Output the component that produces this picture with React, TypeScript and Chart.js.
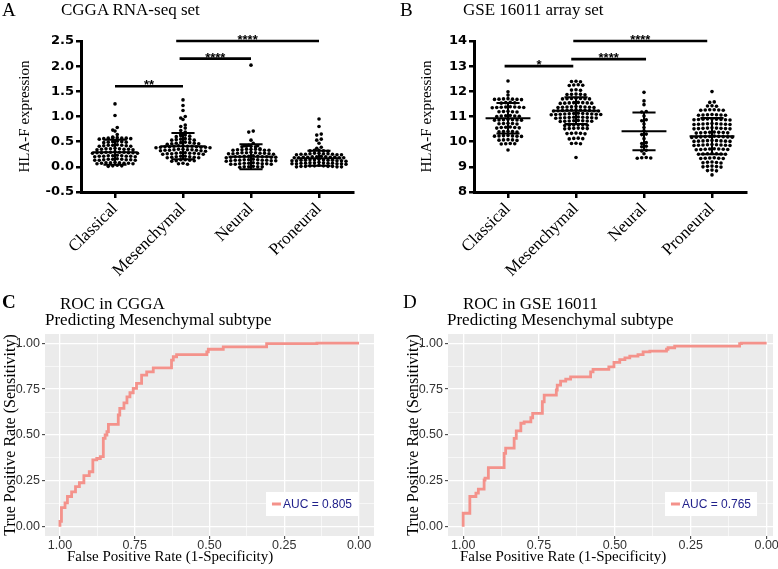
import React, { useEffect, useRef } from 'react';
import { Chart, registerables } from 'chart.js';
Chart.register(...registerables);

const SERIF = '"Liberation Serif", "Times New Roman", serif';
const SANS = '"Liberation Sans", Arial, Helvetica, sans-serif';

// ---------- shared categories ----------
const categories = ['Classical', 'Mesenchymal', 'Neural', 'Proneural'];

// ---------- Panel A : CGGA RNA-seq (HLA-F expression) ----------
const cggaClassical = [
  1.25, 1.02, 0.78, 0.73, 0.71, 0.64,
  0.59, 0.58, 0.58, 0.57, 0.57, 0.57, 0.56, 0.56, 0.55,
  0.51, 0.5, 0.5, 0.49, 0.49, 0.48,
  0.44, 0.43, 0.43, 0.43, 0.42, 0.42, 0.41, 0.41,
  0.37, 0.36, 0.36, 0.36, 0.35, 0.35, 0.35, 0.34, 0.34,
  0.3, 0.29, 0.29, 0.29, 0.29, 0.28, 0.28, 0.28, 0.28, 0.27, 0.27,
  0.23, 0.22, 0.22, 0.22, 0.21, 0.21, 0.21, 0.21, 0.2, 0.2,
  0.16, 0.15, 0.15, 0.15, 0.14, 0.14, 0.14, 0.13, 0.13, 0.13,
  0.09, 0.08, 0.08, 0.08, 0.07, 0.07, 0.07, 0.06, 0.06,
  0.03, 0.02, 0.02, 0.01,
];
const cggaMesenchymal = [
  1.33, 1.22, 1.12, 1.0, 0.97, 0.94, 0.83, 0.8, 0.77, 0.72, 0.69,
  0.64, 0.63, 0.62, 0.61, 0.6,
  0.56, 0.55, 0.55, 0.54, 0.53, 0.53,
  0.49, 0.48, 0.48, 0.47, 0.47, 0.46, 0.46, 0.45,
  0.42, 0.42, 0.41, 0.41, 0.41, 0.4, 0.4, 0.4, 0.39, 0.39, 0.39, 0.38, 0.38,
  0.35, 0.35, 0.34, 0.34, 0.34, 0.33, 0.33, 0.33, 0.32, 0.32, 0.31,
  0.28, 0.28, 0.27, 0.27, 0.27, 0.26, 0.26, 0.26, 0.25, 0.25,
  0.21, 0.21, 0.2, 0.2, 0.19, 0.19, 0.18, 0.18,
  0.14, 0.14, 0.13, 0.12, 0.12, 0.11,
  0.07, 0.06, 0.05,
];
const cggaNeural = [
  2.02, 0.71, 0.69, 0.53, 0.47,
  0.43, 0.42, 0.42, 0.41, 0.41, 0.4, 0.4,
  0.36, 0.35, 0.35, 0.35, 0.34, 0.34, 0.34, 0.33, 0.33, 0.33,
  0.29, 0.28, 0.28, 0.28, 0.27, 0.27, 0.27, 0.26, 0.26, 0.26, 0.25,
  0.22, 0.21, 0.21, 0.21, 0.2, 0.2, 0.2, 0.2, 0.19, 0.19, 0.19, 0.18,
  0.15, 0.14, 0.14, 0.14, 0.13, 0.13, 0.13, 0.13, 0.12, 0.12, 0.12, 0.11,
  0.08, 0.07, 0.07, 0.07, 0.06, 0.06, 0.06, 0.05, 0.05, 0.05,
  0.01, 0.0, 0.0, 0.0, 0.0, -0.01,
];
const cggaProneural = [
  0.95, 0.8, 0.65, 0.63, 0.55, 0.53, 0.47, 0.39, 0.37,
  0.33, 0.33, 0.32, 0.32, 0.31,
  0.27, 0.27, 0.26, 0.26, 0.26, 0.25, 0.25, 0.25, 0.24, 0.24, 0.24,
  0.21, 0.2, 0.2, 0.2, 0.19, 0.19, 0.19, 0.19, 0.18, 0.18, 0.18, 0.18,
  0.15, 0.14, 0.14, 0.14, 0.13, 0.13, 0.13, 0.13, 0.12, 0.12, 0.12, 0.12, 0.11,
  0.09, 0.08, 0.08, 0.08, 0.07, 0.07, 0.07, 0.07, 0.06, 0.06, 0.06, 0.06, 0.05,
  0.03, 0.02, 0.02, 0.02, 0.01, 0.01, 0.01, 0.01, 0.0, 0.0, 0.0,
];
const cggaMean = [0.29, 0.41, 0.2, 0.17];
const cggaSd = [0.25, 0.26, 0.25, 0.15];
const cggaTicks = [-0.5, 0, 0.5, 1, 1.5, 2, 2.5];
const cggaSigFrom = [0, 0.95, 0.9];
const cggaSigTo = [1, 2, 3];
const cggaSigY = [1.6, 2.15, 2.5];
const cggaSigLabel = ['**', '****', '****'];

// ---------- Panel B : GSE 16011 array ----------
const gseClassical = [
  12.41, 11.98, 11.85,
  11.71, 11.7, 11.69, 11.69, 11.68, 11.68, 11.67,
  11.56, 11.55, 11.54, 11.53,
  11.39, 11.38, 11.38, 11.37, 11.37, 11.36, 11.36, 11.35,
  11.21, 11.2, 11.19, 11.19, 11.18,
  11.04, 11.03, 11.02, 11.02, 11.01, 11.0,
  10.88, 10.87, 10.87, 10.86, 10.86, 10.85, 10.85,
  10.73, 10.72, 10.72, 10.71, 10.7,
  10.58, 10.57, 10.56, 10.56, 10.55, 10.54,
  10.41, 10.4, 10.4, 10.39, 10.38,
  10.25, 10.24, 10.23, 10.23, 10.22, 10.22, 10.21,
  10.08, 10.07, 10.07, 10.06, 10.05,
  9.93, 9.92, 9.92, 9.91,
  9.67,
];
const gseMesenchymal = [
  12.4, 12.39, 12.38,
  12.26, 12.25, 12.24, 12.23,
  12.06, 12.05, 12.04,
  11.89, 11.88, 11.88, 11.87, 11.86,
  11.73, 11.72, 11.72, 11.71, 11.71, 11.7, 11.7,
  11.56, 11.55, 11.55, 11.54, 11.54, 11.53, 11.53, 11.52,
  11.4, 11.39, 11.39, 11.38, 11.38, 11.37, 11.37, 11.36, 11.36,
  11.27, 11.26, 11.26, 11.25, 11.25, 11.24, 11.24, 11.23, 11.23, 11.22, 11.22,
  11.13, 11.12, 11.12, 11.11, 11.11, 11.1, 11.1, 11.09, 11.09, 11.08, 11.08, 11.07,
  10.98, 10.97, 10.97, 10.96, 10.96, 10.95, 10.95, 10.94, 10.94, 10.93,
  10.84, 10.83, 10.83, 10.82, 10.82, 10.81, 10.81, 10.8,
  10.67, 10.66, 10.66, 10.65, 10.65, 10.64,
  10.54, 10.53, 10.53, 10.52, 10.52, 10.51,
  10.34, 10.33, 10.33, 10.32, 10.31,
  10.14, 10.13, 10.12, 10.11,
  9.94, 9.93, 9.92,
  9.37,
];
const gseNeural = [
  11.96, 11.62, 11.47, 11.2, 11.18, 11.02, 10.87, 10.83, 10.7, 10.56, 10.43, 10.3, 10.28,
  10.12, 9.96, 9.93, 9.82, 9.8, 9.66, 9.63, 9.52, 9.37, 9.36, 9.35, 9.34,
];
const gseProneural = [
  11.99,
  11.58, 11.56,
  11.43, 11.42, 11.41,
  11.27, 11.27, 11.26, 11.26, 11.25, 11.25,
  11.08, 11.07, 11.07, 11.06, 11.06, 11.05, 11.05,
  10.9, 10.9, 10.89, 10.89, 10.88, 10.88, 10.87, 10.87, 10.86,
  10.72, 10.71, 10.71, 10.7, 10.7, 10.69, 10.69, 10.68, 10.68,
  10.55, 10.54, 10.54, 10.53, 10.53, 10.52, 10.52, 10.51, 10.51,
  10.38, 10.37, 10.37, 10.36, 10.36, 10.35, 10.35, 10.34,
  10.22, 10.21, 10.21, 10.2, 10.2, 10.19, 10.19, 10.18, 10.18, 10.17,
  10.05, 10.04, 10.04, 10.03, 10.03, 10.02, 10.02, 10.01, 10.01,
  9.89, 9.88, 9.88, 9.87, 9.87, 9.86, 9.86, 9.85, 9.85,
  9.72, 9.71, 9.71, 9.7, 9.7, 9.69, 9.69, 9.68,
  9.53, 9.52, 9.52, 9.51, 9.51, 9.5, 9.5,
  9.36, 9.35, 9.34, 9.34, 9.33, 9.33,
  9.19, 9.18, 9.17, 9.16, 9.15,
  9.03, 9.02, 9.01, 9.0, 8.99,
  8.87, 8.85, 8.84,
  8.68,
];
const gseMean = [10.93, 11.23, 10.41, 10.22];
const gseSd = [0.61, 0.53, 0.75, 0.72];
const gseTicks = [8, 9, 10, 11, 12, 13, 14];
const gseSigFrom = [-0.05, 0.93, 0.96];
const gseSigTo = [0.96, 2.03, 2.93];
const gseSigY = [13.0, 13.28, 14.0];
const gseSigLabel = ['*', '****', '****'];

// ---------- Panel C : ROC in CGGA ----------
const cggaSpec = [1, 0.995, 0.983, 0.975, 0.961, 0.948, 0.935, 0.92, 0.902, 0.89, 0.877, 0.865, 0.855, 0.849,
  0.843, 0.838, 0.824, 0.805, 0.8, 0.786, 0.776, 0.766, 0.755, 0.744, 0.727, 0.71, 0.688, 0.671, 0.627,
  0.621, 0.61, 0.599, 0.509, 0.504, 0.454, 0.309, 0.141, 0];
const cggaSens = [0, 0.03, 0.105, 0.13, 0.165, 0.19, 0.219, 0.24, 0.279, 0.3, 0.364, 0.372, 0.382, 0.482,
  0.5, 0.518, 0.558, 0.558, 0.609, 0.645, 0.675, 0.708, 0.73, 0.754, 0.781, 0.826, 0.844, 0.866, 0.866,
  0.908, 0.926, 0.938, 0.938, 0.953, 0.967, 0.98, 0.998, 1];
const cggaAuc = 'AUC = 0.805';

// ---------- Panel D : ROC in GSE 16011 ----------
const gseSpec = [1, 1, 0.978, 0.978, 0.958, 0.95, 0.931, 0.928, 0.917, 0.913, 0.865, 0.86, 0.847, 0.832,
  0.825, 0.81, 0.799, 0.791, 0.777, 0.771, 0.763, 0.739, 0.733, 0.726, 0.693, 0.69, 0.679, 0.662, 0.646,
  0.635, 0.58, 0.572, 0.52, 0.503, 0.484, 0.467, 0.451, 0.424, 0.407, 0.385, 0.33, 0.325, 0.303, 0.253,
  0.089, 0.083, 0];
const gseSens = [0, 0.074, 0.074, 0.165, 0.165, 0.183, 0.205, 0.255, 0.265, 0.322, 0.322, 0.4, 0.428, 0.428,
  0.482, 0.522, 0.564, 0.572, 0.572, 0.594, 0.618, 0.618, 0.681, 0.717, 0.717, 0.745, 0.772, 0.793, 0.804,
  0.817, 0.817, 0.844, 0.857, 0.871, 0.895, 0.911, 0.92, 0.929, 0.938, 0.953, 0.957, 0.967, 0.975, 0.984,
  0.984, 0.998, 1];
const gseAuc = 'AUC = 0.765';

const rocTicks = [0, 0.125, 0.25, 0.375, 0.5, 0.625, 0.75, 0.875, 1];
const ROC_COLOR = '#F4928B';

// ---------- helpers ----------
const DOT_GAP = 4.5; // px between dots in a row
const ROW_TOL = 2.6; // px tolerance to share a row

function swarm(groups: number[][], pxPerUnit: number, pxPerCat: number) {
  const pts: { x: number; y: number }[] = [];
  groups.forEach((vals, gi) => {
    const sorted = [...vals].sort((a, b) => b - a);
    let row: number[] = [];
    const flush = () => {
      const n = row.length;
      row.forEach((v, k) => {
        const pos = k % 2 === 0 ? k / 2 : -(k + 1) / 2;
        const shift = n % 2 === 0 ? 0.5 : 0;
        pts.push({ x: gi + (pos + shift) * DOT_GAP / pxPerCat, y: v });
      });
      row = [];
    };
    sorted.forEach((v) => {
      if (row.length && (row[0] - v) * pxPerUnit > ROW_TOL) flush();
      row.push(v);
    });
    flush();
  });
  return pts;
}

function dotDecor(means: number[], sds: number[], sFrom: number[], sTo: number[], sY: number[], sLab: string[]) {
  return {
    id: 'dotDecor',
    afterDatasetsDraw(chart: any) {
      const { ctx, scales } = chart;
      const x = scales.x, y = scales.y;
      ctx.save();
      ctx.strokeStyle = '#000';
      ctx.lineCap = 'butt';
      means.forEach((m, i) => {
        const cx = x.getPixelForValue(i);
        const hw = x.getPixelForValue(i + 0.33) - cx;
        const cw = x.getPixelForValue(i + 0.17) - cx;
        const ym = y.getPixelForValue(m);
        const yt = y.getPixelForValue(m + sds[i]);
        const yb = y.getPixelForValue(m - sds[i]);
        ctx.lineWidth = 2;
        ctx.beginPath();
        ctx.moveTo(cx - hw, ym); ctx.lineTo(cx + hw, ym);
        ctx.moveTo(cx, yt); ctx.lineTo(cx, yb);
        ctx.moveTo(cx - cw, yt); ctx.lineTo(cx + cw, yt);
        ctx.moveTo(cx - cw, yb); ctx.lineTo(cx + cw, yb);
        ctx.stroke();
      });
      ctx.lineWidth = 2.6;
      ctx.font = `bold 13px ${SANS}`;
      ctx.fillStyle = '#000';
      ctx.textAlign = 'center';
      ctx.textBaseline = 'alphabetic';
      sFrom.forEach((f, i) => {
        const x1 = x.getPixelForValue(f), x2 = x.getPixelForValue(sTo[i]);
        const yy = y.getPixelForValue(sY[i]);
        ctx.beginPath();
        ctx.moveTo(x1, yy); ctx.lineTo(x2, yy);
        ctx.stroke();
        ctx.fillText(sLab[i], (x1 + x2) / 2, yy + 3);
      });
      ctx.restore();
    },
  };
}

function dotConfig(p: {
  groups: number[][]; means: number[]; sds: number[]; ticks: number[]; fmt: (v: number) => string;
  sFrom: number[]; sTo: number[]; sY: number[]; sLab: string[]; padLeft: number; yWidth: number;
  chartW: number; areaRight: number; areaTop: number; areaBottom: number; canvasH: number;
}) {
  const yMin = p.ticks[0], yMax = p.ticks[p.ticks.length - 1];
  const pxPerUnit = (p.areaBottom - p.areaTop) / (yMax - yMin);
  const pxPerCat = (p.areaRight - (p.padLeft + p.yWidth)) / 4;
  const data = swarm(p.groups, pxPerUnit, pxPerCat);
  return {
    type: 'scatter',
    data: {
      datasets: [{ data, pointRadius: 1.8, pointHoverRadius: 1.8, backgroundColor: '#000', borderWidth: 0 }],
    },
    options: {
      animation: false,
      responsive: false,
      devicePixelRatio: 1,
      events: [],
      layout: { padding: { left: p.padLeft, top: p.areaTop, right: p.chartW - p.areaRight, bottom: 0 } },
      plugins: { legend: { display: false }, tooltip: { enabled: false } },
      scales: {
        x: {
          type: 'linear', min: -0.5, max: 3.5, offset: false,
          afterBuildTicks: (s: any) => { s.ticks = categories.map((c, i) => ({ value: i })); },
          afterFit: (s: any) => { s.height = p.canvasH - p.areaBottom; },
          ticks: {
            autoSkip: false, minRotation: 45, maxRotation: 45, padding: 1, color: '#000',
            font: { family: SERIF, size: 17 },
            callback: (v: number) => categories[v],
          },
          grid: { drawOnChartArea: false, drawTicks: true, tickLength: 6, tickWidth: 2.5, tickColor: '#000', color: '#000', lineWidth: 2.5 },
          border: { display: true, color: '#000', width: 3 },
        },
        y: {
          type: 'linear', min: yMin, max: yMax,
          afterBuildTicks: (s: any) => { s.ticks = p.ticks.map((v) => ({ value: v })); },
          afterFit: (s: any) => { s.width = p.yWidth; },
          ticks: { autoSkip: false, padding: 2, color: '#000', font: { family: '"DejaVu Sans", Arial, sans-serif', size: 13, weight: 'bold' }, callback: p.fmt },
          grid: { drawOnChartArea: false, drawTicks: true, tickLength: 5, tickWidth: 2.5, tickColor: '#000', color: '#000', lineWidth: 2.5 },
          border: { display: true, color: '#000', width: 3 },
          title: { display: true, text: 'HLA-F expression', color: '#000', font: { family: SERIF, size: 15 }, padding: { top: 0, bottom: 0 } },
        },
      },
    },
    plugins: [dotDecor(p.means, p.sds, p.sFrom, p.sTo, p.sY, p.sLab)],
  };
}

const panelBg = {
  id: 'panelBg',
  beforeDraw(chart: any) {
    const { ctx, chartArea: a } = chart;
    ctx.save();
    ctx.fillStyle = '#EBEBEB';
    ctx.fillRect(a.left, a.top, a.right - a.left, a.bottom - a.top);
    ctx.restore();
  },
};

function aucLegend(label: string) {
  return {
    id: 'aucLegend',
    afterDraw(chart: any) {
      const { ctx, chartArea: a } = chart;
      ctx.save();
      ctx.font = `12px ${SANS}`;
      const tw = ctx.measureText(label).width;
      const w = tw + 23, h = 24;
      const x = a.right - 16 - w, y = a.bottom - 20 - h;
      ctx.fillStyle = '#fff';
      ctx.fillRect(x, y, w, h);
      ctx.strokeStyle = ROC_COLOR;
      ctx.lineWidth = 3;
      ctx.beginPath();
      ctx.moveTo(x + 6, y + h / 2); ctx.lineTo(x + 15, y + h / 2);
      ctx.stroke();
      ctx.fillStyle = '#22228C';
      ctx.textBaseline = 'middle';
      ctx.textAlign = 'left';
      ctx.fillText(label, x + 17, y + h / 2 + 0.5);
      ctx.restore();
    },
  };
}

function rocConfig(spec: number[], sens: number[], label: string, padLeft: number, padRight: number, xMin: number) {
  const isMajor = (v: number) => Math.abs(v * 4 - Math.round(v * 4)) < 1e-6;
  const gridOpts = {
    drawOnChartArea: true, drawTicks: true, tickLength: 3, tickWidth: 1,
    color: '#FFFFFF',
    lineWidth: (c: any) => (c.tick && isMajor(c.tick.value) ? 1.3 : 0.6),
    tickColor: (c: any) => (c.tick && isMajor(c.tick.value) ? '#333333' : 'rgba(0,0,0,0)'),
  };
  return {
    type: 'line',
    data: {
      datasets: [{
        data: spec.map((s, i) => ({ x: s, y: sens[i] })),
        borderColor: ROC_COLOR, borderWidth: 2.8, pointRadius: 0, stepped: 'after', fill: false,
      }],
    },
    options: {
      animation: false,
      responsive: false,
      devicePixelRatio: 1,
      events: [],
      layout: { padding: { left: padLeft, top: 44, right: padRight, bottom: 3 } },
      plugins: { legend: { display: false }, tooltip: { enabled: false } },
      scales: {
        x: {
          type: 'linear', reverse: true, min: xMin, max: 1.05,
          afterBuildTicks: (s: any) => { s.ticks = rocTicks.map((v) => ({ value: v })); },
          afterFit: (s: any) => { s.height = 30; },
          ticks: { autoSkip: false, maxRotation: 0, padding: 0, color: '#333', font: { family: SANS, size: 12.5, lineHeight: 1 },
            callback: (v: number) => (isMajor(v) ? v.toFixed(2) : '') },
          grid: gridOpts,
          border: { display: false },
        },
        y: {
          type: 'linear', min: -0.05, max: 1.05,
          afterBuildTicks: (s: any) => { s.ticks = rocTicks.map((v) => ({ value: v })); },
          afterFit: (s: any) => { s.width = 44; },
          ticks: { autoSkip: false, padding: 2, color: '#333', font: { family: SANS, size: 12.5 },
            callback: (v: number) => (isMajor(v) ? v.toFixed(2) : '') },
          grid: gridOpts,
          border: { display: false },
          title: { display: true, text: 'True Positive Rate (Sensitivity)', color: '#000', font: { family: SERIF, size: 16 }, padding: { top: 0, bottom: 0 } },
        },
      },
    },
    plugins: [panelBg, aucLegend(label)],
  };
}

function ChartCanvas({ left, top, width, height, make }: { left: number; top: number; width: number; height: number; make: () => any }) {
  const ref = useRef<HTMLCanvasElement | null>(null);
  useEffect(() => {
    if (!ref.current) return;
    const chart = new Chart(ref.current, make());
    return () => chart.destroy();
  }, []);
  return <canvas ref={ref} width={width} height={height} style={{ position: 'absolute', left, top, width, height }} />;
}

function Txt({ x, base, size, text, family = SERIF, weight = 'normal' }: { x: number; base: number; size: number; text: string; family?: string; weight?: string }) {
  return (
    <div style={{ position: 'absolute', left: x, top: base - 0.8375 * size, fontFamily: family, fontSize: size, lineHeight: 1, whiteSpace: 'nowrap', fontWeight: weight as any, color: '#000' }}>
      {text}
    </div>
  );
}

export default function App() {
  return (
    <div style={{ position: 'absolute', left: 0, top: 0, width: 778, height: 569, background: '#fff', overflow: 'hidden' }}>
      <ChartCanvas left={0} top={0} width={385} height={290} make={() => dotConfig({
        groups: [cggaClassical, cggaMesenchymal, cggaNeural, cggaProneural], means: cggaMean, sds: cggaSd,
        ticks: cggaTicks, fmt: (v: number) => v.toFixed(1),
        sFrom: cggaSigFrom, sTo: cggaSigTo, sY: cggaSigY, sLab: cggaSigLabel,
        padLeft: 16, yWidth: 65, chartW: 385, areaRight: 353, areaTop: 41, areaBottom: 192, canvasH: 290,
      })} />
      <ChartCanvas left={389} top={0} width={389} height={290} make={() => dotConfig({
        groups: [gseClassical, gseMesenchymal, gseNeural, gseProneural], means: gseMean, sds: gseSd,
        ticks: gseTicks, fmt: (v: number) => String(v),
        sFrom: gseSigFrom, sTo: gseSigTo, sY: gseSigY, sLab: gseSigLabel,
        padLeft: 29, yWidth: 56, chartW: 389, areaRight: 357, areaTop: 41, areaBottom: 192, canvasH: 290,
      })} />
      <ChartCanvas left={0} top={290} width={389} height={279} make={() => rocConfig(cggaSpec, cggaSens, cggaAuc, 1, 15, -0.05)} />
      <ChartCanvas left={389} top={290} width={389} height={279} make={() => rocConfig(gseSpec, gseSens, gseAuc, 15, 5, -0.021)} />

      <Txt x={2} base={16} size={19} text="A" />
      <Txt x={61} base={15} size={17} text="CGGA RNA-seq set" />
      <Txt x={400} base={16} size={19} text="B" />
      <Txt x={463} base={15} size={17} text="GSE 16011 array set" />

      <Txt x={2} base={308} size={19} text="C" weight="bold" />
      <Txt x={60} base={309} size={17} text="ROC in CGGA" />
      <Txt x={45} base={325} size={17} text="Predicting Mesenchymal subtype" />
      <Txt x={67} base={562} size={15} text="False Positive Rate (1-Specificity)" />

      <Txt x={403} base={308} size={19} text="D" />
      <Txt x={463} base={309} size={17} text="ROC in GSE 16011" />
      <Txt x={447} base={325} size={17} text="Predicting Mesenchymal subtype" />
      <Txt x={460} base={562} size={15} text="False Positive Rate (1-Specificity)" />
    </div>
  );
}
